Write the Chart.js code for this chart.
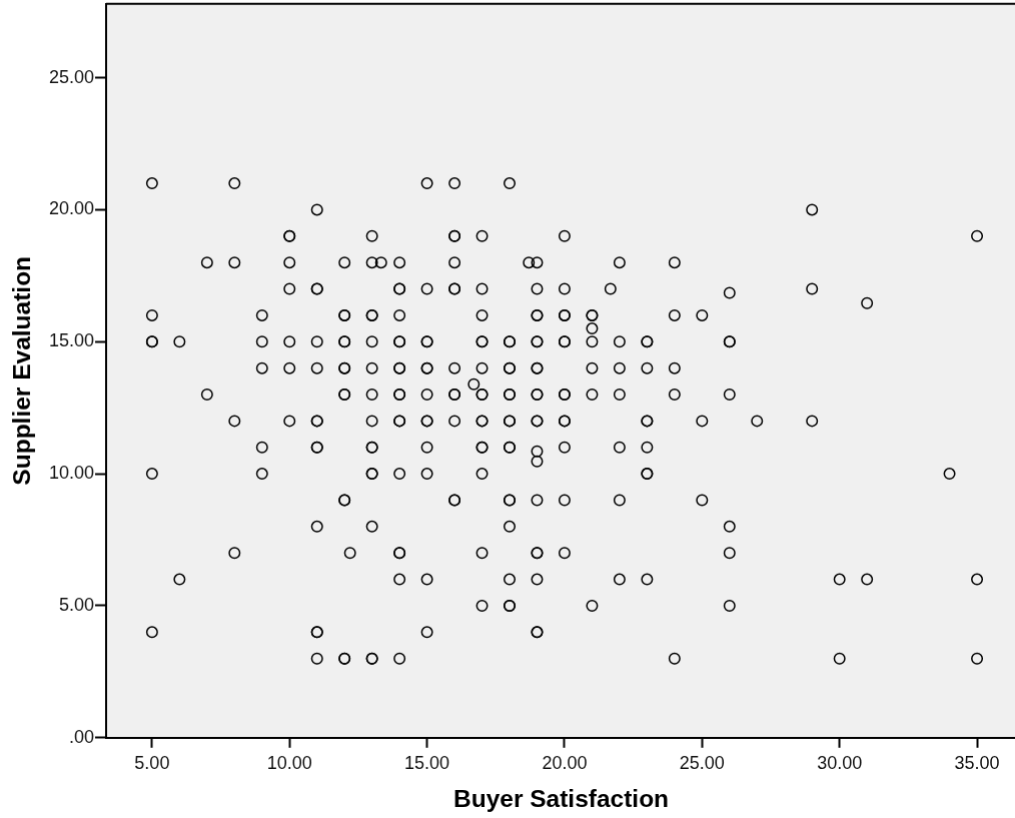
<!DOCTYPE html>
<html>
<head>
<meta charset="utf-8">
<title>Buyer Satisfaction vs Supplier Evaluation</title>
<script src="https://cdn.jsdelivr.net/npm/chart.js@4.4.1/dist/chart.umd.min.js"></script>
<style>
    body { margin: 0; background: #ffffff; overflow: hidden; }
    #wrap { width: 1015px; height: 818px; position: relative; }
</style>
</head>
<body>
<div id="wrap"><canvas id="scatter"></canvas></div>
<script>
// values, one entry per respondent (repeated entries = overlapping circles)
let buyerSatisfaction = [
    5, 8, 15, 16, 18,                                              // 21
    11, 29,                                                        // 20
    10, 10, 13, 16, 16, 17, 20, 35,                                // 19
    7, 8, 10, 12, 13, 13.33, 14, 16, 18.7, 19, 22, 24,             // 18
    10, 11, 11, 14, 14, 15, 16, 16, 17, 19, 20, 21.67, 29,         // 17
    26, 31,
    5, 9, 12, 12, 13, 13, 14, 17, 19, 19, 20, 20, 21, 21, 24, 25,  // 16
    21,
    5, 5, 6, 9, 10, 11, 12, 12, 13, 14, 14, 15, 15, 17, 17, 18, 18,
    19, 19, 20, 20, 21, 22, 23, 23, 26, 26,                        // 15
    9, 10, 11, 12, 12, 13, 14, 14, 15, 15, 16, 17, 18, 18, 19, 19,
    21, 22, 23, 24,                                                // 14
    16.7,
    7, 12, 12, 13, 14, 14, 15, 16, 16, 17, 17, 18, 18, 19, 19, 20, 20,
    21, 22, 24, 26,                                                // 13
    8, 10, 11, 11, 13, 14, 14, 15, 15, 16, 17, 17, 18, 18, 19, 19,
    20, 20, 23, 23, 25, 27, 29,                                    // 12
    9, 11, 11, 13, 13, 15, 17, 17, 18, 18, 20, 22, 23,             // 11
    19, 19,
    5, 9, 13, 13, 14, 15, 17, 23, 23, 34,                          // 10
    12, 12, 16, 16, 18, 18, 19, 20, 22, 25,                        // 9
    11, 13, 18, 26,                                                // 8
    8, 12.2, 14, 14, 17, 19, 19, 20, 26,                           // 7
    6, 14, 15, 18, 19, 22, 23, 30, 31, 35,                         // 6
    17, 18, 18, 21, 26,                                            // 5
    5, 11, 11, 15, 19, 19,                                         // 4
    11, 12, 12, 13, 13, 14, 24, 30, 35                             // 3
];
let supplierEvaluation = [
    21, 21, 21, 21, 21,
    20, 20,
    19, 19, 19, 19, 19, 19, 19, 19,
    18, 18, 18, 18, 18, 18, 18, 18, 18, 18, 18, 18,
    17, 17, 17, 17, 17, 17, 17, 17, 17, 17, 17, 17, 17,
    16.85, 16.46,
    16, 16, 16, 16, 16, 16, 16, 16, 16, 16, 16, 16, 16, 16, 16, 16,
    15.5,
    15, 15, 15, 15, 15, 15, 15, 15, 15, 15, 15, 15, 15, 15, 15, 15, 15,
    15, 15, 15, 15, 15, 15, 15, 15, 15, 15,
    14, 14, 14, 14, 14, 14, 14, 14, 14, 14, 14, 14, 14, 14, 14, 14,
    14, 14, 14, 14,
    13.39,
    13, 13, 13, 13, 13, 13, 13, 13, 13, 13, 13, 13, 13, 13, 13, 13, 13,
    13, 13, 13, 13,
    12, 12, 12, 12, 12, 12, 12, 12, 12, 12, 12, 12, 12, 12, 12, 12,
    12, 12, 12, 12, 12, 12, 12,
    11, 11, 11, 11, 11, 11, 11, 11, 11, 11, 11, 11, 11,
    10.85, 10.47,
    10, 10, 10, 10, 10, 10, 10, 10, 10, 10,
    9, 9, 9, 9, 9, 9, 9, 9, 9, 9,
    8, 8, 8, 8,
    7, 7, 7, 7, 7, 7, 7, 7, 7,
    6, 6, 6, 6, 6, 6, 6, 6, 6, 6,
    5, 5, 5, 5, 5,
    4, 4, 4, 4, 4, 4,
    3, 3, 3, 3, 3, 3, 3, 3, 3
];

let xTicks = [5, 10, 15, 20, 25, 30, 35];
let xTickLabels = ["5.00", "10.00", "15.00", "20.00", "25.00", "30.00", "35.00"];
let yTicks = [0, 5, 10, 15, 20, 25];
let yTickLabels = [".00", "5.00", "10.00", "15.00", "20.00", "25.00"];

let points = buyerSatisfaction.map((x, i) => ({ x: x, y: supplierEvaluation[i] }));

// grey plot background and the top frame line
const plotFrame = {
    id: 'plotFrame',
    beforeDraw(chart) {
        const { ctx, chartArea } = chart;
        ctx.save();
        ctx.fillStyle = '#f0f0f0';
        ctx.fillRect(chartArea.left, chartArea.top, chartArea.right - chartArea.left, chartArea.bottom - chartArea.top);
        ctx.restore();
    },
    afterDraw(chart) {
        const { ctx, chartArea } = chart;
        ctx.save();
        ctx.strokeStyle = '#000';
        ctx.lineWidth = 2;
        ctx.beginPath();
        ctx.moveTo(chartArea.left, chartArea.top);
        ctx.lineTo(chartArea.right, chartArea.top);
        ctx.stroke();
        ctx.restore();
    }
};

const tickFont = { family: "'Liberation Sans', Arial, sans-serif", size: 18 };
const titleFont = { family: "'Liberation Sans', Arial, sans-serif", size: 24.5, weight: 'bold' };

let chart = new Chart(document.getElementById('scatter'), {
    type: 'scatter',
    data: {
        datasets: [{
            label: 'Supplier Evaluation',
            data: points,
            pointStyle: 'circle',
            pointRadius: 5.25,
            pointBorderWidth: 1.5,
            pointBorderColor: '#000',
            pointBackgroundColor: 'rgba(0,0,0,0)'
        }]
    },
    options: {
        responsive: true,
        maintainAspectRatio: false,
        animation: false,
        events: [],
        layout: { padding: { top: 4, right: 0, left: 0, bottom: 0 } },
        plugins: {
            legend: { display: false },
            tooltip: { enabled: false }
        },
        scales: {
            x: {
                type: 'linear',
                min: 3.33,
                max: 36.42,
                afterFit: scale => {
                    scale.height = 81;
                    scale.paddingLeft = 0;
                    scale.paddingRight = 0;
                },
                afterBuildTicks: scale => { scale.ticks = xTicks.map(v => ({ value: v })); },
                ticks: {
                    color: '#111',
                    font: tickFont,
                    padding: 5,
                    maxRotation: 0,
                    autoSkip: false,
                    callback: value => xTickLabels[xTicks.indexOf(value)]
                },
                grid: {
                    drawOnChartArea: false,
                    drawTicks: true,
                    tickLength: 10,
                    tickWidth: 2,
                    tickColor: '#000'
                },
                border: { display: true, color: '#000', width: 2 },
                title: {
                    display: true,
                    text: 'Buyer Satisfaction',
                    color: '#000',
                    font: titleFont,
                    padding: { top: 0, bottom: 4 }
                }
            },
            y: {
                type: 'linear',
                min: 0,
                max: 27.8,
                afterFit: scale => {
                    scale.width = 106;
                    scale.paddingTop = 0;
                    scale.paddingBottom = 0;
                },
                afterBuildTicks: scale => { scale.ticks = yTicks.map(v => ({ value: v })); },
                ticks: {
                    color: '#111',
                    font: tickFont,
                    padding: 1,
                    autoSkip: false,
                    callback: value => yTickLabels[yTicks.indexOf(value)]
                },
                grid: {
                    drawOnChartArea: false,
                    drawTicks: true,
                    tickLength: 11,
                    tickWidth: 2,
                    tickColor: '#000'
                },
                border: { display: true, color: '#000', width: 2 },
                title: {
                    display: true,
                    text: 'Supplier Evaluation',
                    color: '#000',
                    font: titleFont,
                    padding: { top: 9, bottom: 0 }
                }
            }
        }
    },
    plugins: [plotFrame]
});

// the plot frame runs off the right edge in the original, so let the canvas spill past the window
// and pull it up so the frame top sits near the page top
let wrap = document.getElementById('wrap');
let spillRight = 1015 - chart.chartArea.right;
let spillTop = chart.chartArea.top - 4;
if (spillRight > 0 || spillTop > 0) {
    wrap.style.width = (1015 + Math.max(spillRight, 0)) + 'px';
    wrap.style.height = (818 + Math.max(spillTop, 0)) + 'px';
    wrap.style.marginTop = (-Math.max(spillTop, 0)) + 'px';
    chart.resize();
}
</script>
</body>
</html>
